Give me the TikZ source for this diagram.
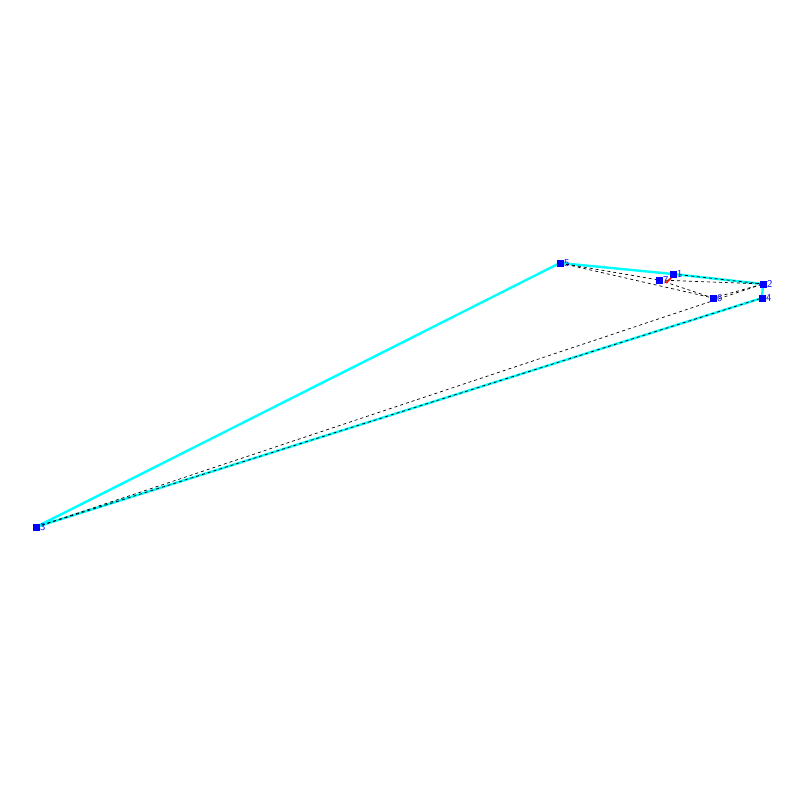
\documentclass[tikz,border=0pt]{standalone}
\usepackage{tikz}
\usetikzlibrary{backgrounds}
\definecolor{hullcyan}{RGB}{0,255,255}

\begin{document}
\begin{tikzpicture}[
  x=1pt, y=-1pt,
  vtx/.style={draw=none, fill=blue, minimum size=7pt, inner sep=0pt, outer sep=0pt,
    label={[font=\fontsize{10.5}{10.5}\sffamily, text=blue, inner sep=0.5pt, label distance=0pt]east:#1}},
  hull/.style={hullcyan, line width=2.4pt},
  link/.style={black, line width=0.7pt, dash pattern=on 3pt off 3pt},
]
\useasboundingbox (0,0) rectangle (800,800);
\node[vtx=1] (p1) at (673,274) {};
\node[vtx=7] (p7) at (659,280) {};
\node[vtx=2] (p2) at (763,284) {};
\node[vtx=3] (p3) at (36,527) {};
\node[vtx=4] (p4) at (762,298) {};
\node[vtx=5] (p5) at (560,263) {};
\node[vtx=6] (p6) at (713,298) {};

\begin{scope}[on background layer]
\draw[hull] (p5.center) -- (p1.center) -- (p2.center) -- (p4.center) -- (p3.center) -- cycle;
\foreach \a/\b in {p5/p7,p5/p6,p7/p6,p7/p2,p6/p2,p1/p2,p3/p2,p3/p4}
  \draw[link] (\a.center) -- (\b.center);
\end{scope}
\draw[red, line width=1.5pt] ([shift={(7,3)}]p7.center) -- ([shift={(-2,4)}]p1.center);
\end{tikzpicture}
\end{document}
